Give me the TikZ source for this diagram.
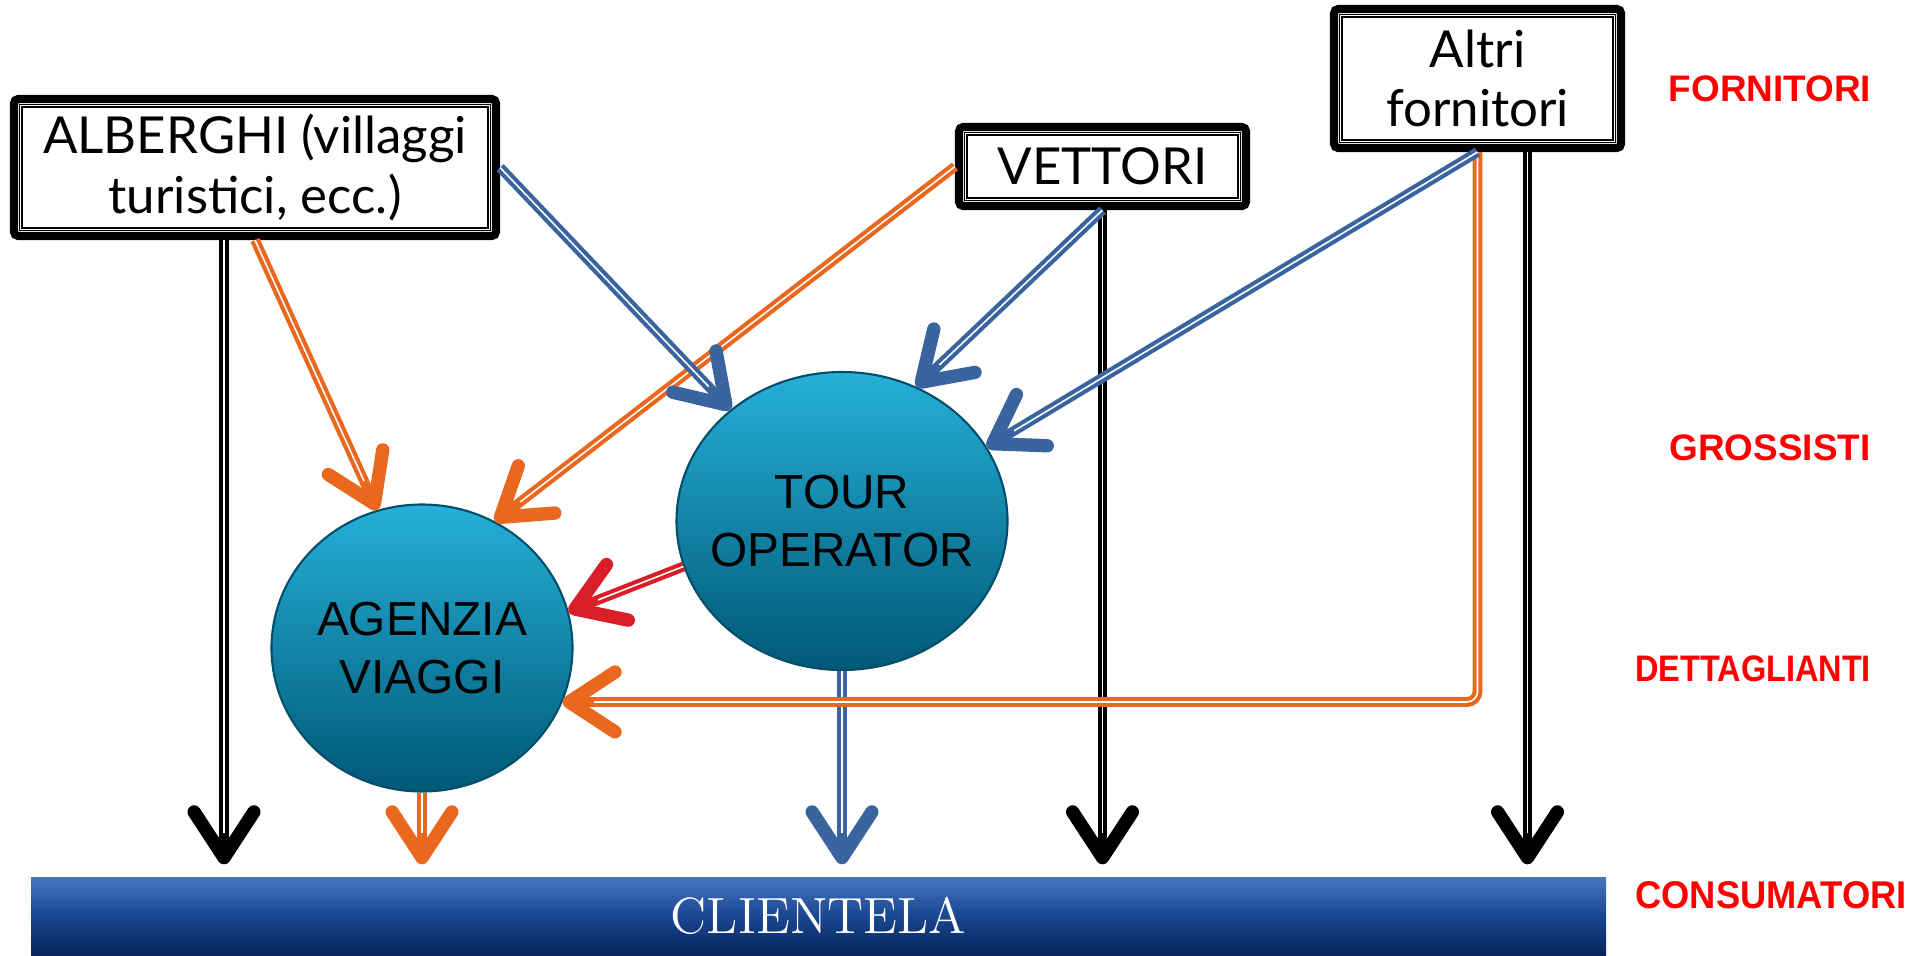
\documentclass[tikz,border=0pt]{standalone}
\usepackage{fontspec}
\usetikzlibrary{arrows.meta,shapes.geometric}
\newfontfamily\boxfamily{Lato}
\newfontfamily\arialfamily{Liberation Sans}
\definecolor{flowOrange}{RGB}{233,104,30}
\definecolor{flowBlue}{RGB}{58,100,158}
\definecolor{flowRed}{RGB}{218,30,40}
\definecolor{ballTop}{RGB}{38,176,216}
\definecolor{ballBot}{RGB}{0,88,118}
\definecolor{ballEdge}{RGB}{0,78,105}
\definecolor{barTop}{RGB}{72,118,192}
\definecolor{barMid}{RGB}{25,70,145}
\definecolor{barBot}{RGB}{8,36,92}
\definecolor{levelRed}{RGB}{255,0,0}

\begin{document}
\begin{tikzpicture}[supplier/.style={draw,line width=2.3pt,rounded corners=1.2pt,fill=white,inner sep=0pt,align=center,
    font=\boxfamily\fontsize{14.5pt}{17pt}\selectfont,
    path picture={\draw[sharp corners,line width=0.35pt,double=white,double distance=0.45pt]
      ([shift={(1.9pt,-1.9pt)}]path picture bounding box.north west) rectangle
      ([shift={(-1.9pt,1.9pt)}]path picture bounding box.south east);}},
  ball/.style={ellipse,draw=ballEdge,line width=0.6pt,top color=ballTop,bottom color=ballBot,
    inner sep=0pt,inner xsep=-8pt,align=center,font=\arialfamily\fontsize{13.6pt}{16.4pt}\selectfont},
  client/.style={rectangle,top color=barTop,bottom color=barBot,middle color=barMid,
    minimum width=15.75cm,minimum height=0.78cm,inner sep=0pt,text=white,font=\fontsize{14.5pt}{16pt}\selectfont},
  level/.style={inner sep=0pt,text=levelRed,font=\arialfamily\bfseries\fontsize{10.5pt}{12pt}\selectfont},
  flowbase/.style={draw=#1,line width=2.8pt,-{Straight Barb[length=13pt,width=17pt,line width=3.8pt,round]}},
  flow/.style={flowbase=#1,postaction={draw=white,line width=0.45pt,-,shorten >=9pt}},
  flowdown/.style={flowbase=#1,shorten >=1.2mm,postaction={draw=white,line width=0.45pt,-,shorten >=12.4pt}}]
  \useasboundingbox (0,0) rectangle (19.15,-9.55);

  % fornitori
  \node[supplier,minimum width=4.82cm,minimum height=1.37cm] at (2.55,-1.675) (alberghi) {ALBERGHI (villaggi\\turistici, ecc.)};
  \node[supplier,minimum width=2.87cm,minimum height=0.79cm] at (11.025,-1.665) (vettori) {VETTORI};
  \node[supplier,minimum width=2.87cm,minimum height=1.39cm] at (14.775,-0.785) (altri) {Altri\\fornitori};

  % grossisti, dettaglianti, consumatori
  \node[ball,minimum width=3.31cm,minimum height=2.98cm] at (8.42,-5.21) (tour) {TOUR\\OPERATOR};
  \node[ball,minimum width=3.01cm,minimum height=2.87cm] at (4.22,-6.48) (agenzia) {AGENZIA\\VIAGGI};
  \node[client] at (8.185,-9.16) (clientela) {CLIENTELA};

  % livelli
  \node[level] at (17.70,-0.89) (lvfor) {FORNITORI};
  \node[level] at (17.70,-4.48) (lvgro) {GROSSISTI};
  \node[level] at (17.53,-6.69) (lvdet) {\scalebox{0.88}[1]{DETTAGLIANTI}};
  \node[level] at (17.71,-8.95) (lvcon) {\fontsize{11pt}{12pt}\selectfont\scalebox{0.94}[1]{CONSUMATORI}};

  % verso la clientela
  \draw[flowdown=black] ([xshift=-3.1mm]alberghi.south) -- ([xshift=-3.1mm]alberghi.south |- clientela.north);
  \draw[flowdown=flowOrange] (agenzia.south) -- (agenzia.south |- clientela.north);
  \draw[flowdown=flowBlue] (tour.south) -- (tour.south |- clientela.north);
  \draw[flowdown=black] (vettori.south) -- (vettori.south |- clientela.north);
  \draw[flowdown=black] ([xshift=5mm]altri.south) -- ([xshift=5mm]altri.south |- clientela.north);

  % verso l'agenzia
  \draw[flow=flowOrange] (alberghi.south) -- (agenzia.108);
  \draw[flow=flowOrange] (vettori.west) -- (agenzia.60);
  \draw[flow=flowRed] (tour.196) -- (agenzia.14);
  \draw[flow=flowOrange,rounded corners=3pt] (altri.south) |- (agenzia.-21);

  % verso il tour operator
  \draw[flow=flowBlue] (alberghi.east) -- (tour.135);
  \draw[flow=flowBlue] (vettori.south) -- (tour.61);
  \draw[flow=flowBlue] (altri.south) -- (tour.27);
\end{tikzpicture}
\end{document}
